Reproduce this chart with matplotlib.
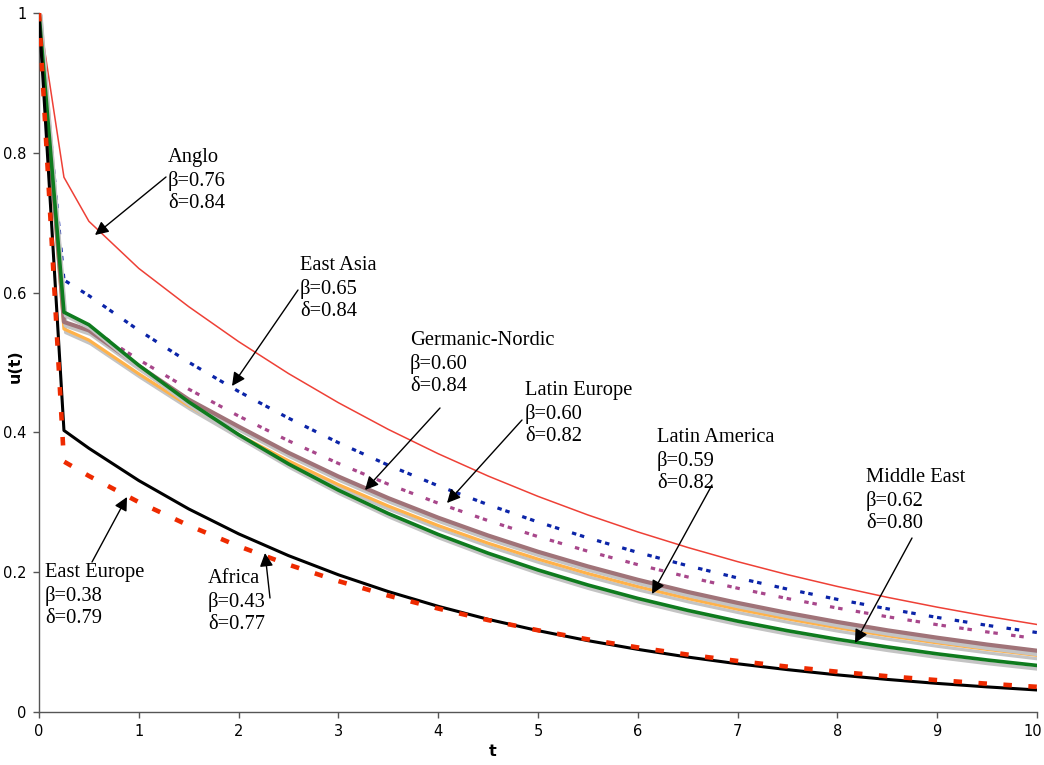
import matplotlib
matplotlib.use("Agg")
import matplotlib.pyplot as plt
import matplotlib.patheffects as pe
import matplotlib.transforms as mtransforms

# ---------------- data ----------------
t = [0, 0.25, 0.5, 1, 1.5, 2, 2.5, 3, 3.5, 4, 4.5, 5, 5.5, 6, 6.5, 7, 7.5,
     8, 8.5, 9, 9.5, 10]

anglo = [1, 0.7650, 0.7020, 0.6346, 0.5799, 0.5299, 0.4842, 0.4425, 0.4043,
         0.3695, 0.3376, 0.3085, 0.2819, 0.2576, 0.2354, 0.2151, 0.1965,
         0.1796, 0.1641, 0.1500, 0.1370, 0.1252]
east_asia = [1, 0.6180, 0.5957, 0.5460, 0.5004, 0.4586, 0.4204, 0.3853,
             0.3531, 0.3236, 0.2966, 0.2718, 0.2491, 0.2283, 0.2093, 0.1918,
             0.1758, 0.1611, 0.1477, 0.1353, 0.1240, 0.1137]
germanic = [1, 0.5744, 0.5499, 0.5040, 0.4619, 0.4234, 0.3880, 0.3556,
            0.3259, 0.2987, 0.2738, 0.2509, 0.2300, 0.2108, 0.1932, 0.1771,
            0.1623, 0.1487, 0.1363, 0.1249, 0.1145, 0.1049]
latin_europe = [1, 0.5580, 0.5460, 0.4950, 0.4470, 0.4084, 0.3709, 0.3369,
                0.3060, 0.2780, 0.2525, 0.2293, 0.2083, 0.1892, 0.1718,
                0.1561, 0.1418, 0.1288, 0.1169, 0.1063, 0.0965, 0.0877]
latin_america = [1, 0.5480, 0.5320, 0.4838, 0.4381, 0.3967, 0.3593, 0.3253,
                 0.2946, 0.2667, 0.2415, 0.2187, 0.1981, 0.1794, 0.1624,
                 0.1471, 0.1332, 0.1206, 0.1092, 0.0989, 0.0896, 0.0811]
middle_east = [1, 0.5720, 0.5540, 0.4960, 0.4436, 0.3968, 0.3549, 0.3174,
               0.2839, 0.2540, 0.2272, 0.2032, 0.1817, 0.1625, 0.1454,
               0.1300, 0.1163, 0.1040, 0.0931, 0.0832, 0.0744, 0.0666]
africa = [1, 0.4028, 0.3773, 0.3311, 0.2905, 0.2549, 0.2237, 0.1963, 0.1723,
          0.1512, 0.1326, 0.1164, 0.1021, 0.0896, 0.0786, 0.0690, 0.0606,
          0.0531, 0.0466, 0.0409, 0.0359, 0.0315]
east_europe = [1, 0.3583, 0.3377, 0.3002, 0.2668, 0.2372, 0.2108, 0.1873,
               0.1665, 0.1480, 0.1315, 0.1169, 0.1039, 0.0924, 0.0821,
               0.0730, 0.0649, 0.0576, 0.0512, 0.0456, 0.0405, 0.0360]

labels = ["Anglo\nβ=0.76\nδ=0.84",
          "East Asia\nβ=0.65\nδ=0.84",
          "Germanic-Nordic\nβ=0.60\nδ=0.84",
          "Latin Europe\nβ=0.60\nδ=0.82",
          "Latin America\nβ=0.59\nδ=0.82",
          "Middle East\nβ=0.62\nδ=0.80",
          "East Europe\nβ=0.38\nδ=0.79",
          "Africa\nβ=0.43\nδ=0.77"]

x_ticks = [0, 1, 2, 3, 4, 5, 6, 7, 8, 9, 10]
y_ticks = [0, 0.2, 0.4, 0.6, 0.8, 1]
y_tick_labels = ["0", "0.2", "0.4", "0.6", "0.8", "1"]

# ---------------- figure ----------------
W, H = 1044, 765
fig = plt.figure(figsize=(W / 100, H / 100), dpi=100)
x0, x1, ytop, ybot = 39, 1037, 13, 712
ax = fig.add_axes([x0 / W, (H - ybot) / H, (x1 - x0) / W, (ybot - ytop) / H])
ax.set_xlim(0, 10)
ax.set_ylim(0, 1)


def px(x, y):
    """pixel position -> data coords (for annotation placement only)"""
    return ((x - x0) / (x1 - x0) * 10, (ybot - y) / (ybot - ytop))


shadow = [pe.SimpleLineShadow(offset=(1.2, -2.6), shadow_color="#c4c4c4",
                              alpha=1.0), pe.Normal()]

ax.plot(t, anglo, color="#ee4036", lw=1.1, zorder=3)
ax.plot(t, east_asia, color="#0b24a8", lw=2.3, dashes=(1.4, 1.2, 1.4, 4.2),
        zorder=3)
ax.plot(t, germanic, color="#a8478b", lw=2.3, dashes=(1.4, 1.2, 1.4, 4.2),
        zorder=3)
ax.plot(t, latin_america, color="#ffb24a", lw=2.3, zorder=4,
        path_effects=shadow)
ax.plot(t, latin_europe, color="#a07378", lw=3.0, zorder=5,
        path_effects=shadow)
ax.plot(t, middle_east, color="#0f7b1e", lw=2.6, zorder=6,
        path_effects=shadow)
ax.plot(t, africa, color="black", lw=2.2, zorder=7)
ax.plot(t, east_europe, color="#ee2a00", lw=3.3, dashes=(1.85, 3.6),
        zorder=8)

# annotations: (text left, text top) in pixels, arrow tail, arrow head
ann = [((168, 148), (166, 177), (95, 235)),
       ((300, 256), (298, 290), (232, 386)),
       ((410, 331), (440, 408), (365, 490)),
       ((525, 381), (522, 420), (447, 503)),
       ((657, 428), (712, 485), (652, 594)),
       ((866, 468), (912, 538), (855, 643)),
       ((45, 563), (92, 562), (127, 497)),
       ((208, 569), (270, 598), (265, 553))]

for lab, (tp, tail, head) in zip(labels, ann):
    ax.text(*px(*tp), lab, family="Liberation Serif", fontsize=14.8,
            ha="left", va="top", linespacing=1.24, zorder=10)
    ax.annotate("", xy=px(*head), xytext=px(*tail),
                arrowprops=dict(arrowstyle="-|>", color="black", lw=1.0,
                                mutation_scale=20, shrinkA=0, shrinkB=0),
                zorder=11)

# axes styling
for s in ["top", "right"]:
    ax.spines[s].set_visible(False)
for s in ["left", "bottom"]:
    ax.spines[s].set_color("#555555")
    ax.spines[s].set_linewidth(1.0)

ax.set_xticks(x_ticks)
ax.set_xticklabels([str(v) for v in x_ticks])
ax.set_yticks(y_ticks)
ax.set_yticklabels(y_tick_labels)
ax.tick_params(direction="out", length=4, width=1, color="#555555",
               labelsize=10.5, pad=5, labelcolor="black")
# keep the last x tick label ("10") inside the canvas
last = ax.get_xticklabels()[-1]
last.set_transform(last.get_transform() +
                   mtransforms.ScaledTranslation(-4 / 100, 0, fig.dpi_scale_trans))

ax.set_xlabel("t", fontsize=11.5, fontweight="bold")
ax.xaxis.set_label_coords((493 - x0) / (x1 - x0), -(752 - ybot) / (ybot - ytop))
ax.xaxis.label.set_va("center")
ax.set_ylabel("u(t)", fontsize=11.5, fontweight="bold")
ax.yaxis.set_label_coords(-(x0 - 15) / (x1 - x0), (ybot - 366) / (ybot - ytop))
ax.yaxis.label.set_va("center")

fig.savefig("out.png", dpi=100)
